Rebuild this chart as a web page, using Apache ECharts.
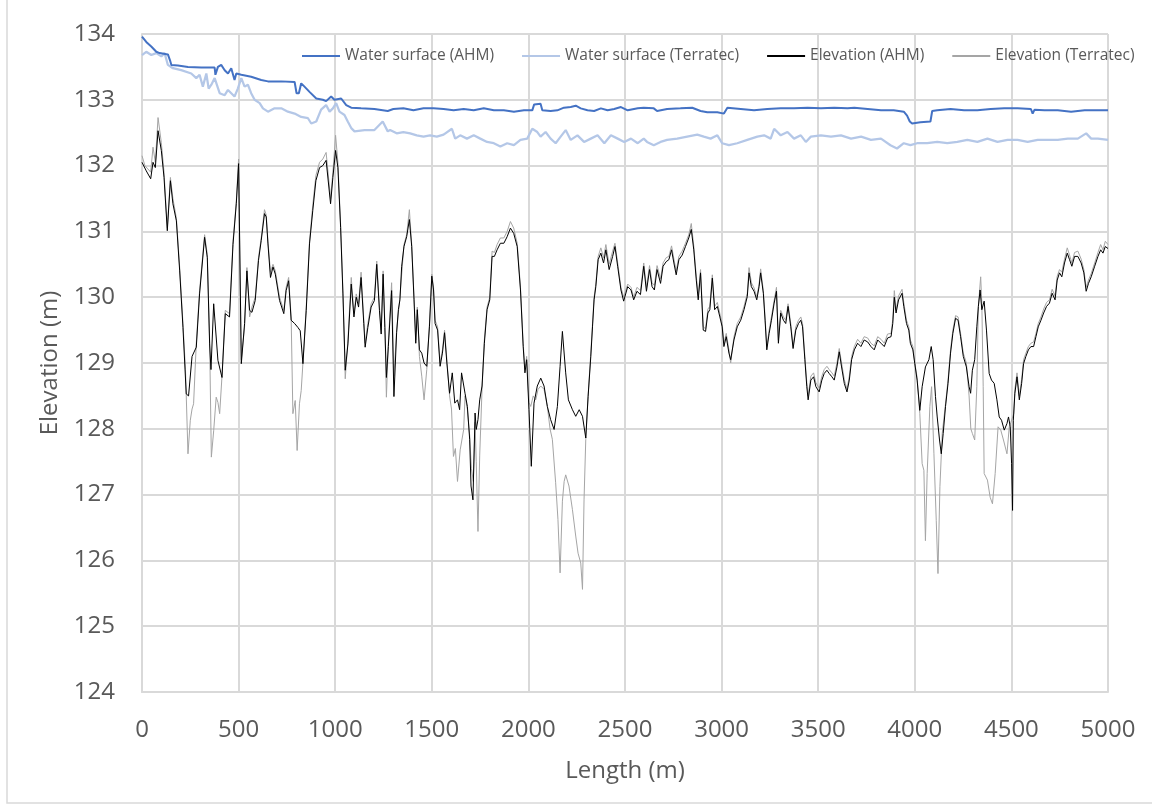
<!DOCTYPE html>
<html>
<head>
<meta charset="utf-8">
<script src="https://cdn.jsdelivr.net/npm/echarts@6/dist/echarts.min.js"></script>
<style>
  html, body { margin: 0; padding: 0; background: #ffffff; }
  #chart { width: 1152px; height: 805px; }
</style>
</head>
<body>
<div id="chart"></div>
<script>
// Longitudinal profile: [length (m), elevation (m)]
const waterSurfaceAHM = [
  [0,133.96],[22,133.88],[48,133.81],[74,133.73],[91,133.71],[134,133.69],[145,133.6],[152,133.53],[186,133.52],[238,133.5],
  [307,133.49],[376,133.49],[380,133.38],[388,133.38],[393,133.5],[410,133.53],[428,133.45],[445,133.4],[462,133.48],[479,133.3],
  [488,133.4],[514,133.38],[565,133.35],[617,133.3],[652,133.28],[721,133.28],[790,133.27],[800,133.1],[812,133.1],[824,133.25],
  [841,133.2],[867,133.12],[902,133.02],[936,133.0],[953,132.98],[979,133.05],[996,133.0],[1031,133.02],[1057,132.92],[1083,132.88],
  [1134,132.87],[1203,132.86],[1272,132.83],[1301,132.86],[1353,132.87],[1405,132.84],[1457,132.87],[1509,132.87],[1561,132.86],[1613,132.84],
  [1665,132.86],[1717,132.84],[1769,132.87],[1821,132.84],[1873,132.84],[1925,132.82],[1977,132.84],[2020,132.84],[2030,132.93],[2063,132.94],
  [2072,132.84],[2115,132.83],[2150,132.84],[2184,132.88],[2219,132.89],[2245,132.91],[2271,132.87],[2306,132.84],[2340,132.83],[2375,132.87],
  [2410,132.84],[2444,132.86],[2479,132.89],[2514,132.84],[2566,132.87],[2597,132.88],[2649,132.87],[2666,132.83],[2718,132.86],[2787,132.87],
  [2848,132.88],[2891,132.83],[2926,132.81],[2978,132.81],[3012,132.79],[3030,132.88],[3099,132.86],[3168,132.84],[3237,132.86],[3306,132.87],
  [3375,132.87],[3445,132.88],[3514,132.87],[3583,132.88],[3652,132.87],[3687,132.88],[3756,132.86],[3825,132.84],[3891,132.84],[3943,132.82],
  [3960,132.76],[3974,132.67],[3986,132.64],[4029,132.66],[4081,132.67],[4090,132.83],[4116,132.84],[4185,132.86],[4255,132.84],[4324,132.84],
  [4393,132.86],[4463,132.87],[4532,132.87],[4601,132.86],[4610,132.79],[4620,132.85],[4671,132.84],[4740,132.84],[4809,132.82],[4879,132.84],
  [4948,132.84],[5000,132.84]
];

const waterSurfaceTerratec = [
  [0,133.68],[22,133.73],[48,133.68],[74,133.71],[100,133.66],[117,133.71],[134,133.53],[160,133.48],[203,133.45],[255,133.4],
  [281,133.33],[298,133.38],[315,133.2],[333,133.4],[345,133.17],[359,133.23],[376,133.33],[402,133.1],[428,133.07],[445,133.15],
  [462,133.1],[479,133.05],[496,133.17],[514,133.33],[531,133.2],[548,133.23],[565,133.1],[583,133.0],[609,132.95],[626,132.87],
  [652,132.82],[686,132.87],[721,132.87],[755,132.82],[790,132.79],[824,132.74],[859,132.72],[876,132.64],[902,132.67],[927,132.85],
  [953,132.92],[971,132.82],[988,132.87],[1005,132.95],[1022,132.82],[1048,132.77],[1065,132.67],[1083,132.57],[1100,132.52],[1152,132.54],
  [1203,132.54],[1246,132.67],[1272,132.52],[1284,132.54],[1318,132.49],[1353,132.51],[1388,132.49],[1422,132.46],[1457,132.44],[1491,132.46],
  [1526,132.44],[1561,132.47],[1604,132.56],[1621,132.41],[1647,132.46],[1682,132.41],[1717,132.46],[1751,132.41],[1786,132.36],[1821,132.34],
  [1855,132.29],[1890,132.34],[1925,132.31],[1959,132.39],[1994,132.41],[2020,132.56],[2046,132.51],[2063,132.44],[2089,132.51],[2115,132.41],
  [2141,132.34],[2167,132.44],[2193,132.54],[2219,132.39],[2254,132.46],[2288,132.36],[2323,132.41],[2358,132.46],[2393,132.34],[2427,132.46],
  [2462,132.41],[2496,132.36],[2531,132.41],[2566,132.34],[2597,132.41],[2614,132.36],[2649,132.31],[2684,132.36],[2718,132.39],[2770,132.41],
  [2822,132.44],[2874,132.47],[2908,132.44],[2943,132.41],[2978,132.46],[3003,132.34],[3038,132.31],[3081,132.34],[3133,132.39],[3185,132.44],
  [3220,132.46],[3254,132.41],[3272,132.56],[3306,132.46],[3341,132.51],[3375,132.41],[3410,132.46],[3436,132.36],[3462,132.44],[3514,132.46],
  [3566,132.44],[3618,132.46],[3670,132.41],[3722,132.44],[3773,132.39],[3825,132.41],[3874,132.31],[3908,132.26],[3943,132.34],[3977,132.31],
  [4012,132.34],[4064,132.34],[4116,132.36],[4168,132.34],[4220,132.36],[4272,132.39],[4324,132.36],[4376,132.41],[4428,132.36],[4480,132.39],
  [4532,132.39],[4584,132.36],[4636,132.39],[4688,132.39],[4740,132.39],[4792,132.41],[4844,132.41],[4887,132.49],[4913,132.41],[4948,132.41],
  [5000,132.39]
];

const elevationAHM = [
  [0,132.05],[22,131.92],[45,131.8],[57,132.05],[69,131.97],[83,132.53],[100,132.23],[114,131.82],[131,131.01],[147,131.77],
  [160,131.42],[178,131.16],[195,130.4],[212,129.54],[229,128.53],[241,128.5],[259,129.1],[281,129.24],[298,130.05],[324,130.91],
  [338,130.6],[350,129.29],[357,128.9],[371,129.9],[379,129.9],[393,129.04],[414,128.78],[431,129.75],[453,129.7],[471,130.8],
  [488,131.42],[500,132.03],[514,128.99],[531,129.6],[543,130.4],[557,129.8],[569,129.77],[586,129.95],[603,130.56],[617,130.86],
  [634,131.27],[643,131.22],[652,130.81],[665,130.3],[678,130.46],[690,130.35],[712,129.95],[734,129.75],[746,130.1],[759,130.25],
  [772,129.65],[790,129.6],[807,129.54],[819,129.49],[833,128.99],[850,129.8],[867,130.81],[884,131.32],[900,131.77],[919,131.97],
  [936,132.0],[953,132.08],[962,132.1],[976,131.42],[988,131.82],[1002,132.23],[1014,131.97],[1028,131.06],[1040,130.05],[1052,128.89],
  [1066,129.29],[1083,130.2],[1097,129.7],[1109,130.0],[1121,129.85],[1134,130.3],[1148,129.6],[1155,129.24],[1169,129.54],[1186,129.85],
  [1203,129.95],[1215,130.5],[1229,129.8],[1238,129.44],[1248,130.35],[1257,129.54],[1265,128.78],[1275,129.25],[1292,130.1],[1304,128.49],
  [1318,129.46],[1327,129.81],[1335,129.96],[1344,130.47],[1356,130.77],[1370,130.92],[1384,131.18],[1396,130.77],[1408,129.96],[1417,129.3],
  [1425,129.81],[1436,129.2],[1448,129.15],[1460,129.0],[1474,128.95],[1488,129.56],[1500,130.32],[1509,130.11],[1517,129.6],[1530,129.5],
  [1543,128.95],[1555,129.15],[1566,129.46],[1578,129.0],[1592,128.54],[1606,128.85],[1619,128.39],[1633,128.44],[1644,128.29],[1654,128.85],
  [1672,128.54],[1684,128.34],[1696,127.84],[1703,127.13],[1713,126.92],[1724,128.24],[1730,127.99],[1739,128.14],[1748,128.44],[1760,128.65],
  [1772,129.3],[1786,129.81],[1800,129.96],[1812,130.62],[1824,130.62],[1838,130.72],[1855,130.82],[1873,130.82],[1890,130.92],[1907,131.05],
  [1924,130.97],[1942,130.77],[1959,130.11],[1973,129.25],[1982,128.85],[1991,129.05],[2003,128.29],[2015,127.43],[2029,128.39],[2046,128.65],
  [2064,128.77],[2081,128.65],[2098,128.34],[2115,128.14],[2133,127.99],[2150,128.34],[2164,128.95],[2176,129.48],[2193,128.85],[2207,128.44],
  [2228,128.29],[2245,128.19],[2263,128.29],[2280,128.19],[2297,127.86],[2309,128.49],[2323,129.1],[2332,129.56],[2340,129.96],[2349,130.16],
  [2361,130.57],[2375,130.67],[2389,130.52],[2401,130.72],[2418,130.42],[2436,130.62],[2448,130.77],[2462,130.47],[2479,130.11],[2493,129.94],
  [2514,130.16],[2531,130.11],[2545,129.96],[2562,130.09],[2580,130.04],[2597,130.47],[2611,130.09],[2627,130.42],[2640,130.16],[2652,130.11],
  [2666,130.42],[2684,130.21],[2697,130.47],[2713,130.54],[2727,130.57],[2741,130.72],[2753,130.52],[2765,130.34],[2779,130.57],[2796,130.64],
  [2813,130.77],[2830,130.9],[2843,131.03],[2856,130.72],[2869,130.26],[2879,129.96],[2891,130.37],[2905,129.5],[2917,129.48],[2929,129.76],
  [2939,129.81],[2952,130.29],[2964,129.81],[2978,129.86],[2991,129.7],[3003,129.55],[3012,129.25],[3024,129.4],[3038,129.15],[3047,129.05],
  [3064,129.35],[3081,129.55],[3099,129.65],[3116,129.81],[3133,130.01],[3142,130.37],[3154,130.16],[3168,130.09],[3182,129.96],[3194,130.16],
  [3202,130.37],[3216,130.06],[3225,129.65],[3234,129.2],[3246,129.45],[3258,129.65],[3272,129.91],[3284,130.09],[3294,129.3],[3306,129.76],
  [3320,129.65],[3332,129.6],[3344,129.86],[3358,129.55],[3370,129.22],[3384,129.5],[3398,129.6],[3410,129.65],[3419,129.55],[3431,129.05],
  [3441,128.64],[3448,128.44],[3462,128.74],[3476,128.79],[3488,128.64],[3505,128.56],[3519,128.74],[3531,128.84],[3545,128.89],[3557,128.84],
  [3571,128.79],[3583,128.74],[3597,128.94],[3609,129.17],[3621,128.94],[3635,128.69],[3649,128.56],[3661,128.74],[3673,129.05],[3687,129.2],
  [3704,129.3],[3721,129.25],[3738,129.35],[3756,129.32],[3773,129.25],[3790,129.2],[3808,129.35],[3825,129.3],[3842,129.25],[3859,129.38],
  [3877,129.4],[3886,129.6],[3894,130.0],[3903,129.76],[3916,129.96],[3934,130.06],[3943,129.86],[3957,129.6],[3969,129.5],[3977,129.3],
  [3990,129.2],[4000,128.99],[4012,128.74],[4026,128.28],[4038,128.64],[4055,128.94],[4073,129.05],[4085,129.25],[4095,129.05],[4107,128.49],
  [4116,128.18],[4128,127.83],[4137,127.62],[4147,127.93],[4159,128.34],[4172,128.69],[4185,129.15],[4197,129.45],[4211,129.68],[4224,129.65],
  [4237,129.4],[4251,129.1],[4267,128.94],[4281,128.64],[4289,128.54],[4298,128.89],[4310,129.05],[4321,129.55],[4329,129.86],[4338,130.11],
  [4347,129.81],[4359,129.94],[4371,129.5],[4385,128.84],[4397,128.74],[4411,128.69],[4425,128.44],[4437,128.18],[4449,128.13],[4463,127.98],
  [4477,128.08],[4485,128.18],[4494,128.03],[4501,127.47],[4506,126.76],[4510,128.13],[4518,128.54],[4529,128.79],[4541,128.44],[4553,128.69],
  [4563,128.99],[4575,129.1],[4588,129.2],[4601,129.25],[4615,129.25],[4627,129.4],[4639,129.55],[4653,129.65],[4667,129.76],[4682,129.86],
  [4697,129.91],[4711,130.06],[4726,129.96],[4737,130.26],[4749,130.37],[4761,130.31],[4775,130.52],[4789,130.67],[4801,130.57],[4813,130.47],
  [4827,130.62],[4844,130.62],[4861,130.52],[4875,130.37],[4887,130.09],[4899,130.21],[4913,130.31],[4931,130.47],[4948,130.62],[4962,130.72],
  [4974,130.67],[4986,130.77],[5000,130.74]
];

const elevationTerratec = [
  [0,132.15],[15,132.0],[30,131.95],[45,131.9],[57,132.28],[69,132.05],[83,132.73],[100,132.35],[114,131.9],[131,131.05],
  [147,131.82],[160,131.5],[178,131.2],[195,130.45],[212,129.6],[225,128.9],[238,127.62],[250,128.13],[259,128.3],[267,128.38],
  [281,129.3],[298,130.1],[324,130.95],[338,130.65],[350,129.35],[359,127.57],[371,127.97],[384,128.48],[393,128.4],[402,128.23],
  [414,128.8],[431,129.8],[453,129.75],[471,130.85],[488,131.45],[500,132.1],[514,129.05],[531,129.55],[543,130.45],[557,129.7],
  [569,129.85],[586,130.0],[603,130.6],[617,130.9],[634,131.33],[643,131.25],[652,130.85],[665,130.38],[678,130.5],[690,130.4],
  [712,130.0],[734,129.8],[746,130.15],[759,130.3],[772,129.7],[781,128.23],[793,128.43],[803,127.67],[815,128.38],[824,128.58],
  [833,129.0],[850,129.85],[867,130.85],[884,131.4],[900,131.85],[919,132.05],[936,132.1],[953,132.2],[962,132.2],[976,131.5],
  [988,131.9],[1002,132.46],[1014,132.05],[1028,131.1],[1040,130.1],[1052,128.76],[1066,129.35],[1083,130.3],[1097,129.75],[1109,130.05],
  [1121,129.9],[1134,130.38],[1148,129.65],[1155,129.3],[1169,129.6],[1186,129.9],[1203,130.0],[1215,130.55],[1229,129.85],[1238,129.5],
  [1248,130.4],[1257,129.6],[1265,128.48],[1275,129.3],[1292,130.22],[1304,128.8],[1318,129.5],[1335,130.0],[1356,130.8],[1370,130.95],
  [1384,131.33],[1396,130.8],[1408,130.0],[1417,129.35],[1425,129.85],[1436,129.1],[1448,128.8],[1460,128.44],[1474,128.9],[1488,129.6],
  [1500,130.35],[1509,130.15],[1517,129.65],[1530,129.55],[1543,129.0],[1555,129.2],[1566,129.5],[1578,129.05],[1592,128.5],[1602,128.3],
  [1612,127.58],[1622,127.7],[1633,127.2],[1647,127.68],[1665,127.99],[1672,128.5],[1684,128.3],[1696,127.9],[1705,127.4],[1715,127.2],
  [1724,128.1],[1730,127.5],[1739,126.44],[1748,127.6],[1760,128.6],[1772,129.35],[1786,129.85],[1800,130.0],[1812,130.7],[1824,130.68],
  [1838,130.8],[1855,130.9],[1873,130.9],[1890,131.0],[1907,131.15],[1924,131.05],[1942,130.82],[1959,130.15],[1973,129.3],[1982,128.9],
  [1991,129.1],[2003,128.4],[2012,128.34],[2025,128.5],[2038,128.44],[2050,128.6],[2064,128.65],[2081,128.6],[2098,128.34],[2112,128.0],
  [2124,127.84],[2141,127.18],[2153,126.62],[2164,125.81],[2176,126.9],[2185,127.2],[2193,127.3],[2210,127.13],[2228,126.77],[2245,126.37],
  [2257,126.11],[2271,125.96],[2280,125.56],[2288,126.92],[2297,127.84],[2309,128.5],[2323,129.15],[2332,129.6],[2340,130.0],[2349,130.2],
  [2361,130.62],[2375,130.75],[2389,130.6],[2401,130.8],[2418,130.5],[2436,130.7],[2448,130.82],[2462,130.52],[2479,130.15],[2493,130.0],
  [2514,130.2],[2531,130.15],[2545,130.0],[2562,130.15],[2580,130.1],[2597,130.52],[2611,130.15],[2627,130.48],[2640,130.22],[2652,130.18],
  [2666,130.48],[2684,130.28],[2697,130.52],[2713,130.6],[2727,130.62],[2741,130.78],[2753,130.58],[2765,130.4],[2779,130.62],[2796,130.7],
  [2813,130.82],[2830,130.95],[2843,131.12],[2856,130.78],[2869,130.32],[2879,130.02],[2891,130.42],[2905,129.55],[2917,129.52],[2929,129.82],
  [2939,129.86],[2952,130.34],[2964,129.86],[2978,129.92],[2991,129.75],[3003,129.6],[3012,129.3],[3024,129.45],[3038,129.2],[3047,129.0],
  [3064,129.4],[3081,129.6],[3099,129.7],[3116,129.86],[3133,130.06],[3142,130.45],[3154,130.22],[3168,130.14],[3182,130.0],[3194,130.2],
  [3202,130.43],[3216,130.1],[3225,129.7],[3234,129.25],[3246,129.5],[3258,129.7],[3272,129.95],[3284,130.15],[3294,129.35],[3306,129.8],
  [3320,129.7],[3332,129.65],[3344,129.9],[3358,129.6],[3370,129.25],[3384,129.55],[3398,129.65],[3410,129.7],[3419,129.6],[3431,129.1],
  [3441,128.7],[3448,128.5],[3462,128.8],[3476,128.85],[3488,128.7],[3505,128.62],[3519,128.8],[3531,128.9],[3545,128.95],[3557,128.9],
  [3571,128.85],[3583,128.8],[3597,129.0],[3609,129.22],[3621,129.0],[3635,128.75],[3649,128.6],[3661,128.8],[3673,129.1],[3687,129.25],
  [3704,129.36],[3721,129.3],[3738,129.4],[3756,129.38],[3773,129.3],[3790,129.26],[3808,129.4],[3825,129.36],[3842,129.3],[3859,129.44],
  [3877,129.45],[3886,129.66],[3894,130.1],[3903,129.8],[3916,130.02],[3934,130.12],[3943,129.92],[3957,129.65],[3969,129.55],[3977,129.35],
  [3990,129.25],[4000,129.0],[4012,128.78],[4026,128.23],[4038,127.47],[4047,127.37],[4055,126.3],[4064,127.32],[4078,128.34],[4087,128.64],
  [4099,127.62],[4111,126.61],[4120,125.8],[4130,127.12],[4142,127.93],[4159,128.38],[4172,128.74],[4185,129.2],[4197,129.5],[4211,129.72],
  [4224,129.7],[4237,129.45],[4251,129.15],[4267,129.0],[4281,128.5],[4290,128.0],[4298,127.93],[4310,127.83],[4321,128.64],[4329,129.86],
  [4341,130.31],[4347,129.9],[4354,128.64],[4359,127.32],[4376,127.22],[4390,126.96],[4402,126.86],[4416,127.32],[4431,128.03],[4445,127.98],
  [4459,127.83],[4477,127.62],[4489,128.03],[4501,128.13],[4512,128.23],[4518,128.6],[4529,128.85],[4541,128.5],[4553,128.75],[4563,129.05],
  [4575,129.15],[4588,129.25],[4601,129.3],[4615,129.32],[4627,129.45],[4639,129.6],[4653,129.7],[4667,129.82],[4682,129.92],[4697,129.96],
  [4711,130.12],[4726,130.02],[4737,130.32],[4749,130.42],[4761,130.38],[4775,130.58],[4789,130.75],[4801,130.64],[4813,130.52],[4827,130.68],
  [4844,130.7],[4861,130.58],[4875,130.42],[4887,130.15],[4899,130.26],[4913,130.36],[4931,130.52],[4948,130.68],[4962,130.8],[4974,130.72],
  [4986,130.85],[5000,130.8]
];

const seriesNames = ['Water surface (AHM)', 'Water surface (Terratec)', 'Elevation (AHM)', 'Elevation (Terratec)'];
const xAxisTitle = 'Length (m)';
const yAxisTitle = 'Elevation (m)';

const FONT = '"Open Sans", "Liberation Sans", sans-serif';
const TEXT = '#595959';
const GRID = '#d9d9d9';

const chart = echarts.init(document.getElementById('chart'), null, { renderer: 'canvas' });

function lineSeries(name, data, color, width, z) {
  return {
    name, type: 'line', data, z,
    symbol: 'none', showSymbol: false,
    smooth: false, animation: false,
    lineStyle: { color, width },
    itemStyle: { color },
    emphasis: { disabled: true }
  };
}

chart.setOption({
  backgroundColor: '#ffffff',
  animation: false,
  textStyle: { fontFamily: FONT },
  graphic: [{
    type: 'rect', silent: true,
    shape: { x: 7, y: -5, width: 1200, height: 808 },
    style: { fill: 'none', stroke: GRID, lineWidth: 1.5 }
  }],
  grid: { left: 142, right: 44, top: 34, bottom: 113, containLabel: false },
  legend: {
    data: seriesNames.map(name => ({ name, icon: 'rect' })),
    left: 297, top: 43, width: 900,
    itemWidth: 38, itemHeight: 2, itemGap: 28,
    textStyle: { color: TEXT, fontSize: 15.5, fontFamily: FONT }
  },
  xAxis: {
    type: 'value', min: 0, max: 5000, interval: 500,
    name: xAxisTitle, nameLocation: 'middle', nameGap: 67,
    nameTextStyle: { color: TEXT, fontSize: 24, fontFamily: FONT },
    axisLine: { show: true, lineStyle: { color: GRID, width: 2 } },
    axisTick: { show: false },
    axisLabel: { color: TEXT, fontSize: 24, fontFamily: FONT, margin: 26, formatter: v => String(v) },
    splitLine: { show: true, lineStyle: { color: GRID, width: 2 } }
  },
  yAxis: {
    type: 'value', min: 124, max: 134, interval: 1,
    name: yAxisTitle, nameLocation: 'middle', nameGap: 80, nameRotate: 90,
    nameTextStyle: { color: TEXT, fontSize: 24, fontFamily: FONT },
    axisLine: { show: true, lineStyle: { color: GRID, width: 2 } },
    axisTick: { show: false },
    axisLabel: { color: TEXT, fontSize: 24, fontFamily: FONT, margin: 27 },
    splitLine: { show: true, lineStyle: { color: GRID, width: 2 } }
  },
  series: [
    lineSeries(seriesNames[0], waterSurfaceAHM, '#4472C4', 2, 4),
    lineSeries(seriesNames[1], waterSurfaceTerratec, '#B4C7E7', 2.25, 3),
    lineSeries(seriesNames[2], elevationAHM, '#000000', 1, 2),
    lineSeries(seriesNames[3], elevationTerratec, '#A5A5A5', 1, 1)
  ]
});
</script>
</body>
</html>
